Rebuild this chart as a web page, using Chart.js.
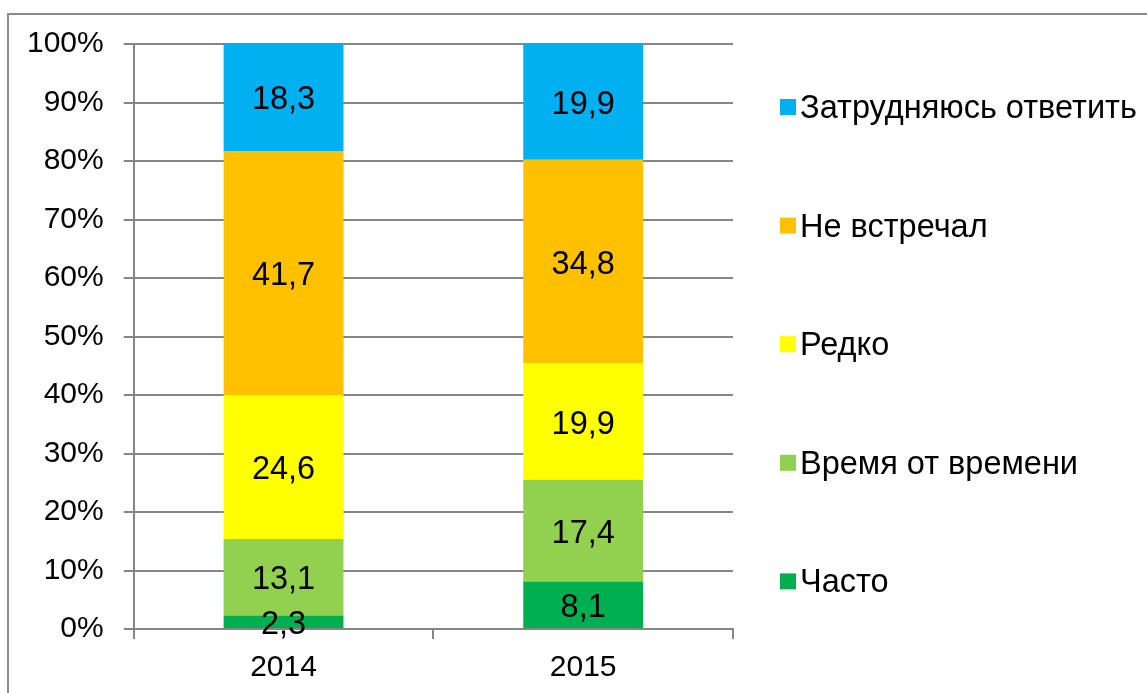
<!DOCTYPE html>
<html>
<head>
<meta charset="utf-8">
<script src="https://cdn.jsdelivr.net/npm/chart.js@4/dist/chart.umd.min.js"></script>
<style>
  html, body { margin: 0; padding: 0; background: #fff; }
  #frame { position: absolute; left: 7px; top: 13px; width: 1200px; height: 800px;
           border-top: 2px solid #8a8a8a; border-left: 2px solid #8a8a8a; }
  #wrap { position: absolute; left: 0; top: 0; width: 1147px; height: 693px; }
</style>
</head>
<body>
<div id="frame"></div>
<div id="wrap"><canvas id="myChart"></canvas></div>
<script>
// categories and series (percent shares)
var years = ['2014', '2015'];
var chasto = [2.3, 8.1];
var vremya = [13.1, 17.4];
var redko = [24.6, 19.9];
var neVstrechal = [41.7, 34.8];
var zatrud = [18.3, 19.9];
var yTicks = [0, 10, 20, 30, 40, 50, 60, 70, 80, 90, 100];

var gridColor = '#868686';
var family = 'Liberation Sans, Arial, sans-serif';
var font = { family: family, size: 30 };
var bigSize = 32.5; // value labels and legend are a bit larger

// value labels inside each stacked segment
var segmentLabels = {
    id: 'segmentLabels',
    afterDatasetsDraw: function(chart) {
        var ctx = chart.ctx;
        ctx.save();
        ctx.font = bigSize + 'px ' + family;
        ctx.fillStyle = '#000';
        ctx.textAlign = 'center';
        ctx.textBaseline = 'middle';
        chart.data.datasets.forEach(function(ds, i) {
            chart.getDatasetMeta(i).data.forEach(function(bar, j) {
                var y = (bar.y + bar.base) / 2;
                ctx.fillText(String(ds.data[j]).replace('.', ','), bar.x, y + 3);
            });
        });
        ctx.restore();
    }
};

// legend on the right, top item = last dataset (like Excel)
var sideLegend = {
    id: 'sideLegend',
    afterDraw: function(chart) {
        var ctx = chart.ctx;
        var area = chart.chartArea;
        var x = area.right + 47;
        var ds = chart.data.datasets.slice().reverse();
        ctx.save();
        ctx.font = bigSize + 'px ' + family;
        ctx.textAlign = 'left';
        ctx.textBaseline = 'middle';
        ds.forEach(function(d, k) {
            var y = area.top + 63 + k * 118.6;
            ctx.fillStyle = d.backgroundColor;
            ctx.fillRect(x, y - 8, 16, 16);
            ctx.fillStyle = '#000';
            ctx.fillText(d.label, x + 20, y + 2);
        });
        ctx.restore();
    }
};

var ctx = document.getElementById('myChart').getContext('2d');
var myChart = new Chart(ctx, {
    type: 'bar',
    data: {
        labels: years,
        datasets: [
            { label: 'Часто', data: chasto, backgroundColor: '#00B050' },
            { label: 'Время от времени', data: vremya, backgroundColor: '#92D050' },
            { label: 'Редко', data: redko, backgroundColor: '#FFFF00' },
            { label: 'Не встречал', data: neVstrechal, backgroundColor: '#FFC000' },
            { label: 'Затрудняюсь ответить', data: zatrud, backgroundColor: '#00B0F0' }
        ]
    },
    options: {
        responsive: true,
        maintainAspectRatio: false,
        animation: false,
        datasets: { bar: { barPercentage: 0.8, categoryPercentage: 0.5 } },
        layout: { padding: { left: 7, top: 44, right: 414, bottom: -4 } },
        plugins: {
            tooltip: { enabled: false },
            legend: { display: false }
        },
        scales: {
            x: {
                stacked: true,
                grid: { drawOnChartArea: false, drawTicks: true, tickLength: 10, color: gridColor, lineWidth: 2 },
                border: { color: gridColor, width: 2 },
                ticks: { color: '#000', font: { family: family, size: 30, lineHeight: 0.7333 }, padding: 18 }
            },
            y: {
                stacked: true,
                min: 0,
                max: 100,
                afterBuildTicks: function(axis) {
                    axis.ticks = yTicks.map(function(v) { return { value: v }; });
                },
                grid: { color: gridColor, lineWidth: 2, tickLength: 10 },
                border: { color: gridColor, width: 2 },
                ticks: {
                    color: '#000',
                    font: font,
                    padding: 20,
                    callback: function(v) { return v + '%'; }
                }
            }
        }
    },
    plugins: [segmentLabels, sideLegend]
});
</script>
</body>
</html>
